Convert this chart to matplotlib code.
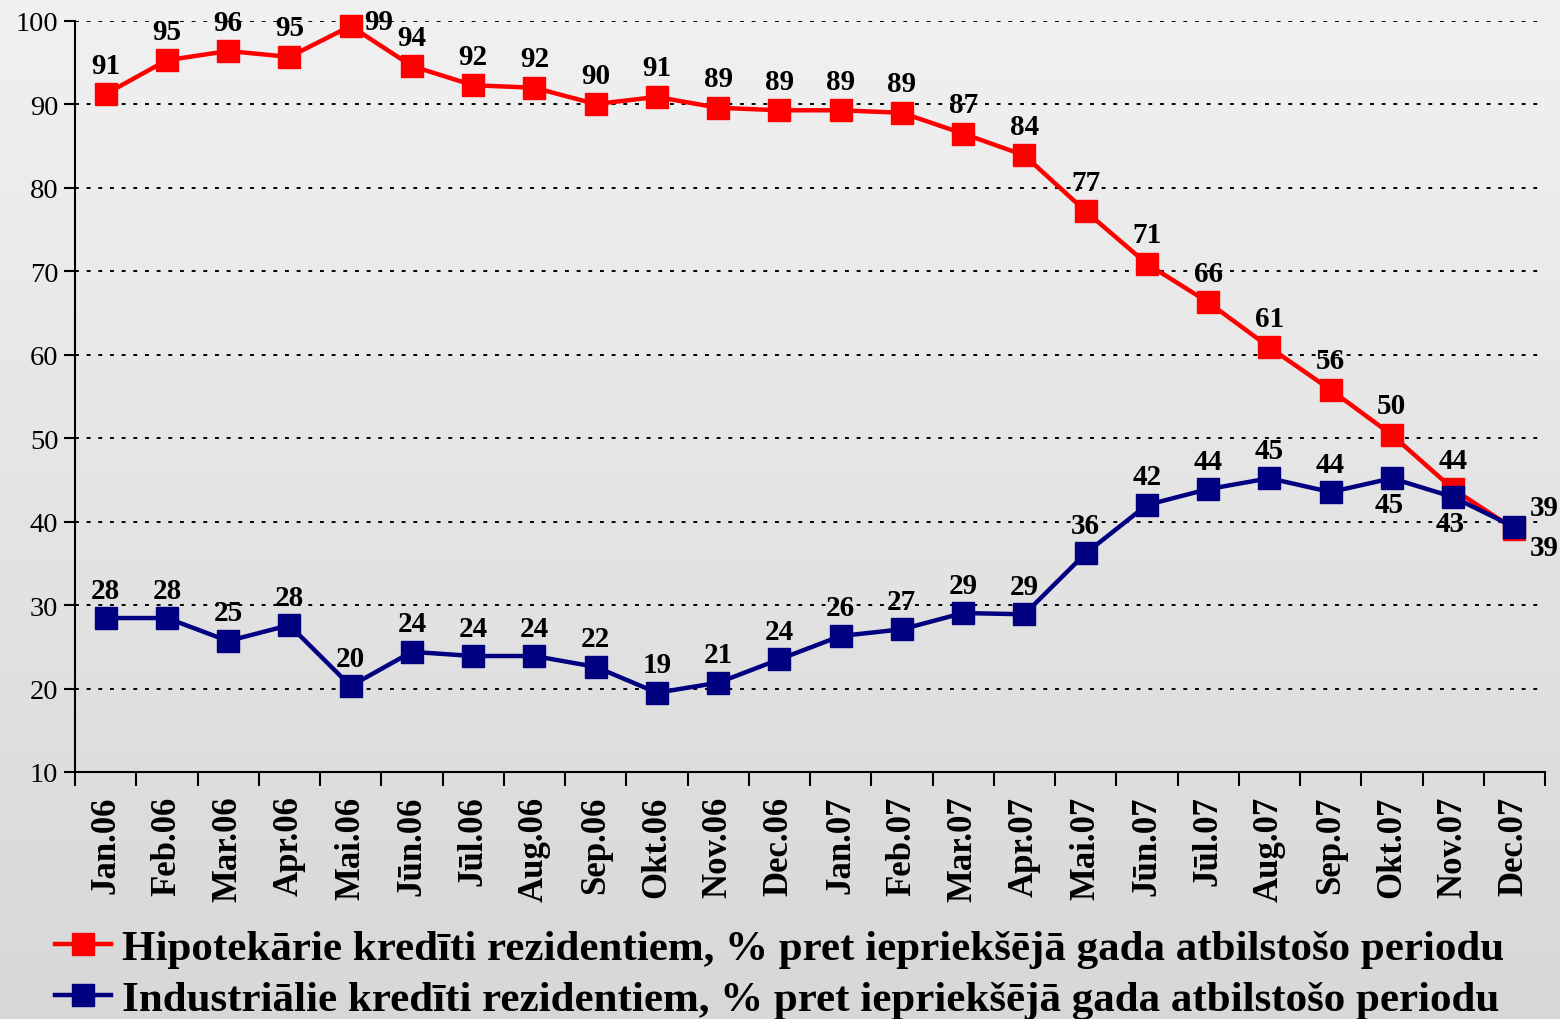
import matplotlib
matplotlib.use("Agg")
import matplotlib.pyplot as plt
import numpy as np

months = ["Jan.06", "Feb.06", "Mar.06", "Apr.06", "Mai.06", "Jūn.06", "Jūl.06", "Aug.06",
          "Sep.06", "Okt.06", "Nov.06", "Dec.06", "Jan.07", "Feb.07", "Mar.07", "Apr.07",
          "Mai.07", "Jūn.07", "Jūl.07", "Aug.07", "Sep.07", "Okt.07", "Nov.07", "Dec.07"]
mortgage = [91.25, 95.3, 96.4, 95.7, 99.4, 94.6, 92.3, 92.0, 90.05, 90.9, 89.6, 89.3,
            89.3, 89.0, 86.5, 83.9, 77.2, 70.9, 66.3, 60.9, 55.8, 50.4, 43.9, 39.1]
industrial = [28.45, 28.45, 25.7, 27.6, 20.3, 24.4, 23.9, 23.9, 22.6, 19.5, 20.7, 23.5,
              26.3, 27.1, 29.05, 28.9, 36.2, 42.0, 43.9, 45.2, 43.55, 45.2, 42.95, 39.35]
mortgage_labels = ["91", "95", "96", "95", "99", "94", "92", "92", "90", "91", "89", "89",
                   "89", "89", "87", "84", "77", "71", "66", "61", "56", "50", "44", "39"]
industrial_labels = ["28", "28", "25", "28", "20", "24", "24", "24", "22", "19", "21", "24",
                     "26", "27", "29", "29", "36", "42", "44", "45", "44", "45", "43", "39"]
legend_mortgage = "Hipotekārie kredīti rezidentiem, % pret iepriekšējā gada atbilstošo periodu"
legend_industrial = "Industriālie kredīti rezidentiem, % pret iepriekšējā gada atbilstošo periodu"

plt.rcParams['font.family'] = ['Liberation Serif', 'DejaVu Serif']

fig = plt.figure(figsize=(15.6, 10.2), dpi=100)
bg = fig.add_axes([0, 0, 1, 1], zorder=-10)
grad = np.linspace(0.945, 0.845, 256).reshape(-1, 1)
bg.imshow(np.dstack([grad, grad, grad]), aspect='auto', extent=[0, 1, 0, 1])
bg.axis('off')

ax = fig.add_axes([75/1560, 1 - 773/1020, 1470/1560, 751/1020])
ax.set_facecolor('none')
x = np.arange(len(months))
red = '#ff0000'
navy = '#000080'
ax.plot(x, mortgage, color=red, lw=3.2, marker='s', ms=15.5, mec=red, mfc=red,
        label=legend_mortgage, zorder=3, clip_on=False)
ax.plot(x, industrial, color=navy, lw=3.2, marker='s', ms=15.5, mec=navy, mfc=navy,
        label=legend_industrial, zorder=4, clip_on=False)

lab_kw = dict(fontsize=21, fontweight='bold', ha='center', va='center', zorder=6,
              annotation_clip=False)
for i, (v, t) in enumerate(zip(mortgage, mortgage_labels)):
    dx, dy = 0, 29
    if i == 4:
        dx, dy = 28, 5
    if i == 23:
        dx, dy = 30, -18
    ax.annotate(t, (i, v), xytext=(dx, dy), textcoords='offset pixels', **lab_kw)
for i, (v, t) in enumerate(zip(industrial, industrial_labels)):
    dx, dy = 0, 28
    if i in (21, 22):
        dx, dy = -3, -26
    if i == 23:
        dx, dy = 30, 20
    ax.annotate(t, (i, v), xytext=(dx, dy), textcoords='offset pixels', **lab_kw)

ax.set_xlim(-0.5, len(months) - 0.5)
ax.set_ylim(10, 100)
ax.set_yticks(range(10, 101, 10))
ax.tick_params(axis='y', labelsize=20.5, length=8, width=1.5, direction='out', pad=4)
ax.set_xticks(x)
ax.set_xticklabels(months, rotation=90, fontsize=25, fontweight='bold')
ax.tick_params(axis='x', length=0, pad=17)
ax.set_xticks(np.arange(-0.5, len(months)), minor=True)
ax.tick_params(axis='x', which='minor', length=10, width=1.5, direction='out')
for yv in range(20, 101, 10):
    ax.axhline(yv, color='black', lw=1.4, ls=(0, (2, 4)), zorder=1)
for s in ['top', 'right']:
    ax.spines[s].set_visible(False)
for s in ['left', 'bottom']:
    ax.spines[s].set_linewidth(1.5)

leg = fig.legend(loc='lower left', bbox_to_anchor=(55/1560, 0.0), frameon=False,
                 prop={'size': 31, 'weight': 'bold'}, handlelength=1.3, handletextpad=0.25,
                 labelspacing=0.28, markerscale=1.0, borderpad=0.0, borderaxespad=0.0)

fig.savefig('out.png', dpi=100)
